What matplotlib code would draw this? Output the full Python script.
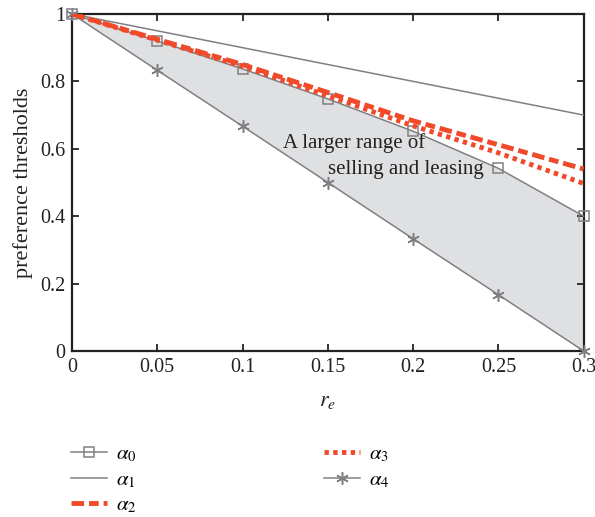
import matplotlib
matplotlib.use("Agg")
import matplotlib.pyplot as plt

plt.rcParams['font.family'] = ['Liberation Serif', 'DejaVu Serif']
plt.rcParams['mathtext.fontset'] = 'stix'

# data
re_vals = [0, 0.05, 0.1, 0.15, 0.2, 0.25, 0.3]
alpha0 = [1.0, 0.92, 0.837, 0.748, 0.652, 0.542, 0.40]
alpha1 = [1.0, 0.95, 0.90, 0.85, 0.80, 0.75, 0.70]
alpha2 = [1.0, 0.925, 0.85, 0.767, 0.683, 0.612, 0.54]
alpha3 = [1.0, 0.922, 0.845, 0.757, 0.668, 0.588, 0.497]
alpha4 = [1.0, 0.833, 0.667, 0.5, 0.333, 0.167, 0.0]
labels = [r'$\alpha_0$', r'$\alpha_1$', r'$\alpha_2$', r'$\alpha_3$', r'$\alpha_4$']

gray = '#808084'
red = '#f04a2a'
ink = '#222222'

fig = plt.figure(figsize=(5.95, 5.17), dpi=100)
ax = fig.add_axes([0.121, 0.321, 0.860, 0.652])

ax.fill_between(re_vals, alpha4, alpha0, color='#dfe0e2', lw=0, zorder=1)

h0, = ax.plot(re_vals, alpha0, color=gray, lw=1.1, marker='s', ms=7,
              mfc='none', mec=gray, mew=1.1, clip_on=False, zorder=3)
h1, = ax.plot(re_vals, alpha1, color=gray, lw=1.1, zorder=3)
h2, = ax.plot(re_vals, alpha2, color=red, lw=3.5, dashes=(2.6, 1.0, 2.0, 1.0), zorder=4)
h3, = ax.plot(re_vals, alpha3, color=red, lw=3.5, dashes=(0.9, 0.9), zorder=4)
h4, = ax.plot(re_vals, alpha4, color=gray, lw=1.1, marker=(6, 2, 0), ms=9,
              mew=1.1, clip_on=False, zorder=3)

ax.text(0.124, 0.618, 'A larger range of', fontsize=15, ha='left', va='center', color=ink)
ax.text(0.150, 0.540, 'selling and leasing', fontsize=15, ha='left', va='center', color=ink)

ax.set_xlim(0, 0.3)
ax.set_ylim(0, 1)
ax.set_xticks(re_vals)
ax.set_xticklabels(['0', '0.05', '0.1', '0.15', '0.2', '0.25', '0.3'])
ax.set_yticks([0, 0.2, 0.4, 0.6, 0.8, 1])
ax.set_yticklabels(['0', '0.2', '0.4', '0.6', '0.8', '1'])
ax.tick_params(direction='in', length=5, width=1.3, labelsize=14.5, top=True, right=True,
               pad=5, colors=ink)
for s in ax.spines.values():
    s.set_linewidth(1.6)
    s.set_color(ink)

ax.set_xlabel(r'$r_e$', fontsize=16, labelpad=11, color=ink)
ax.set_ylabel('preference thresholds', fontsize=16, labelpad=5, color=ink)

fig.legend([h0, h1, h2, h3, h4], labels, ncol=2, loc='upper left',
           bbox_to_anchor=(0.106, 0.155), frameon=False, fontsize=15,
           handlelength=1.7, columnspacing=9.0, labelspacing=0.28, handletextpad=0.45,
           borderaxespad=0)

fig.savefig('out.png', dpi=100)
